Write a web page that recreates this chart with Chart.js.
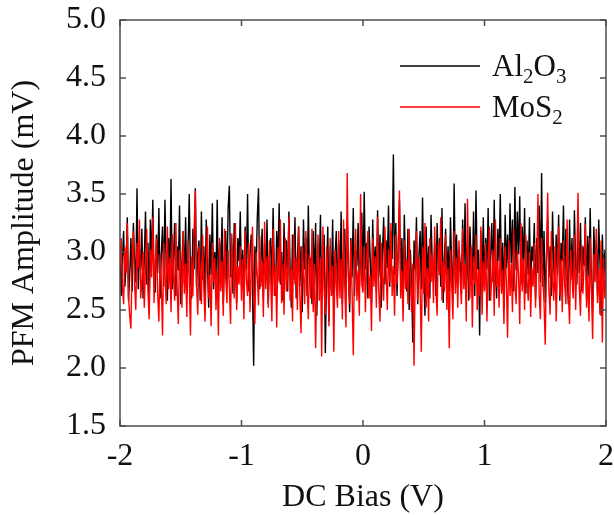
<!DOCTYPE html>
<html>
<head>
<meta charset="utf-8">
<script src="https://cdn.jsdelivr.net/npm/chart.js@4.4.1/dist/chart.umd.min.js"></script>
<style>
  html, body { margin: 0; padding: 0; background: #fff; }
  #wrap { width: 614px; height: 515px; }
</style>
</head>
<body>
<div id="wrap"><canvas id="pfmChart" width="614" height="515"></canvas></div>
<script>
// DC bias sweep (V)
const biasV = [
  -2, -1.99, -1.98, -1.97, -1.96, -1.95, -1.94, -1.93, -1.92, -1.91,
  -1.9, -1.89, -1.88, -1.87, -1.86, -1.85, -1.84, -1.83, -1.82, -1.81,
  -1.8, -1.79, -1.78, -1.77, -1.76, -1.75, -1.74, -1.73, -1.72, -1.71,
  -1.7, -1.69, -1.68, -1.67, -1.66, -1.65, -1.64, -1.63, -1.62, -1.61,
  -1.6, -1.59, -1.58, -1.57, -1.56, -1.55, -1.54, -1.53, -1.52, -1.51,
  -1.5, -1.49, -1.48, -1.47, -1.46, -1.45, -1.44, -1.43, -1.42, -1.41,
  -1.4, -1.39, -1.38, -1.37, -1.36, -1.35, -1.34, -1.33, -1.32, -1.31,
  -1.3, -1.29, -1.28, -1.27, -1.26, -1.25, -1.24, -1.23, -1.22, -1.21,
  -1.2, -1.19, -1.18, -1.17, -1.16, -1.15, -1.14, -1.13, -1.12, -1.11,
  -1.1, -1.09, -1.08, -1.07, -1.06, -1.05, -1.04, -1.03, -1.02, -1.01,
  -1, -0.99, -0.98, -0.97, -0.96, -0.95, -0.94, -0.93, -0.92, -0.91,
  -0.9, -0.89, -0.88, -0.87, -0.86, -0.85, -0.84, -0.83, -0.82, -0.81,
  -0.8, -0.79, -0.78, -0.77, -0.76, -0.75, -0.74, -0.73, -0.72, -0.71,
  -0.7, -0.69, -0.68, -0.67, -0.66, -0.65, -0.64, -0.63, -0.62, -0.61,
  -0.6, -0.59, -0.58, -0.57, -0.56, -0.55, -0.54, -0.53, -0.52, -0.51,
  -0.5, -0.49, -0.48, -0.47, -0.46, -0.45, -0.44, -0.43, -0.42, -0.41,
  -0.4, -0.39, -0.38, -0.37, -0.36, -0.35, -0.34, -0.33, -0.32, -0.31,
  -0.3, -0.29, -0.28, -0.27, -0.26, -0.25, -0.24, -0.23, -0.22, -0.21,
  -0.2, -0.19, -0.18, -0.17, -0.16, -0.15, -0.14, -0.13, -0.12, -0.11,
  -0.1, -0.09, -0.08, -0.07, -0.06, -0.05, -0.04, -0.03, -0.02, -0.01,
  0, 0.01, 0.02, 0.03, 0.04, 0.05, 0.06, 0.07, 0.08, 0.09,
  0.1, 0.11, 0.12, 0.13, 0.14, 0.15, 0.16, 0.17, 0.18, 0.19,
  0.2, 0.21, 0.22, 0.23, 0.24, 0.25, 0.26, 0.27, 0.28, 0.29,
  0.3, 0.31, 0.32, 0.33, 0.34, 0.35, 0.36, 0.37, 0.38, 0.39,
  0.4, 0.41, 0.42, 0.43, 0.44, 0.45, 0.46, 0.47, 0.48, 0.49,
  0.5, 0.51, 0.52, 0.53, 0.54, 0.55, 0.56, 0.57, 0.58, 0.59,
  0.6, 0.61, 0.62, 0.63, 0.64, 0.65, 0.66, 0.67, 0.68, 0.69,
  0.7, 0.71, 0.72, 0.73, 0.74, 0.75, 0.76, 0.77, 0.78, 0.79,
  0.8, 0.81, 0.82, 0.83, 0.84, 0.85, 0.86, 0.87, 0.88, 0.89,
  0.9, 0.91, 0.92, 0.93, 0.94, 0.95, 0.96, 0.97, 0.98, 0.99,
  1, 1.01, 1.02, 1.03, 1.04, 1.05, 1.06, 1.07, 1.08, 1.09,
  1.1, 1.11, 1.12, 1.13, 1.14, 1.15, 1.16, 1.17, 1.18, 1.19,
  1.2, 1.21, 1.22, 1.23, 1.24, 1.25, 1.26, 1.27, 1.28, 1.29,
  1.3, 1.31, 1.32, 1.33, 1.34, 1.35, 1.36, 1.37, 1.38, 1.39,
  1.4, 1.41, 1.42, 1.43, 1.44, 1.45, 1.46, 1.47, 1.48, 1.49,
  1.5, 1.51, 1.52, 1.53, 1.54, 1.55, 1.56, 1.57, 1.58, 1.59,
  1.6, 1.61, 1.62, 1.63, 1.64, 1.65, 1.66, 1.67, 1.68, 1.69,
  1.7, 1.71, 1.72, 1.73, 1.74, 1.75, 1.76, 1.77, 1.78, 1.79,
  1.8, 1.81, 1.82, 1.83, 1.84, 1.85, 1.86, 1.87, 1.88, 1.89,
  1.9, 1.91, 1.92, 1.93, 1.94, 1.95, 1.96, 1.97, 1.98, 1.99,
  2
];

// PFM amplitude (mV), Al2O3 sample (black)
const al2o3Amp = [
  3.05, 2.62, 2.95, 3.18, 2.70, 2.88, 3.30, 2.58, 2.80, 3.12, 2.66, 3.25, 2.92, 2.74, 3.55, 2.68, 3.02, 2.85, 3.20, 2.60,
  2.95, 3.35, 2.72, 3.08, 2.55, 3.28, 2.90, 3.45, 2.78, 2.65, 3.15, 2.82, 3.38, 2.60, 2.98, 3.22, 2.70, 3.45, 2.88, 2.58,
  3.12, 2.76, 3.63, 2.68, 2.95, 3.25, 2.62, 3.05, 2.84, 3.40, 2.55, 2.92, 3.18, 2.72, 3.30, 2.64, 3.02, 3.50, 2.80, 2.60,
  3.20, 2.85, 3.55, 2.70, 2.98, 3.10, 2.58, 3.35, 2.76, 3.05, 2.62, 3.28, 2.90, 2.52, 3.15, 2.80, 3.42, 2.68, 3.00, 2.74,
  3.45, 2.60, 3.08, 2.82, 3.30, 2.55, 2.95, 3.18, 2.70, 3.38, 3.57, 2.78, 3.05, 2.64, 3.25, 2.88, 2.56, 3.12, 2.92, 3.35,
  2.70, 3.02, 2.62, 3.22, 2.85, 3.50, 2.66, 2.98, 3.15, 2.74, 2.02, 3.05, 2.80, 3.30, 3.55, 2.68, 2.92, 3.20, 2.60, 3.08,
  2.78, 3.28, 2.55, 2.95, 3.12, 2.70, 3.38, 2.84, 2.62, 3.18, 2.90, 3.42, 2.72, 3.00, 2.58, 3.25, 2.82, 3.10, 2.66, 3.35,
  2.88, 2.52, 3.15, 2.76, 3.30, 2.60, 2.95, 3.22, 2.70, 3.05, 2.48, 3.28, 2.85, 3.12, 2.62, 3.40, 2.78, 2.95, 2.55, 3.18,
  2.72, 3.25, 2.45, 3.02, 2.85, 3.32, 2.58, 2.90, 3.15, 2.13, 2.80, 3.22, 2.40, 3.05, 2.68, 3.28, 2.52, 2.95, 3.18, 2.62,
  3.10, 2.75, 3.35, 2.55, 2.98, 3.20, 2.66, 3.30, 2.85, 2.48, 3.12, 2.78, 3.38, 2.62, 3.02, 2.88, 3.25, 2.70, 2.96, 3.34,
  2.74, 3.52, 2.85, 3.08, 2.60, 3.22, 2.92, 2.56, 3.28, 2.80, 3.05, 2.66, 3.36, 2.78, 3.15, 2.52, 2.98, 3.30, 2.72, 3.10,
  2.86, 3.40, 2.70, 3.18, 2.94, 3.84, 2.80, 3.25, 2.62, 3.05, 3.45, 2.76, 3.12, 2.58, 3.32, 2.88, 2.66, 3.20, 2.50, 3.02,
  2.72, 2.22, 3.10, 2.85, 3.30, 2.55, 2.96, 3.18, 2.68, 3.47, 2.80, 2.45, 3.22, 2.74, 3.05, 2.60, 3.32, 2.90, 2.75, 3.08,
  2.62, 3.25, 2.84, 3.12, 2.70, 3.38, 2.56, 2.95, 3.20, 2.78, 3.05, 2.66, 3.30, 2.88, 2.58, 3.59, 2.82, 3.15, 2.72, 3.02,
  2.90, 2.64, 3.28, 2.80, 3.42, 2.70, 3.08, 2.58, 3.22, 2.94, 2.76, 3.35, 2.62, 3.53, 2.85, 3.02, 2.28, 3.18, 2.72, 3.30,
  2.68, 3.12, 2.85, 3.38, 2.58, 2.96, 3.25, 2.74, 3.45, 2.82, 2.60, 3.20, 2.92, 3.50, 2.70, 3.08, 2.52, 3.32, 2.86, 3.15,
  2.76, 3.42, 2.90, 3.28, 2.66, 3.56, 2.84, 3.35, 2.98, 3.48, 2.72, 3.22, 2.88, 3.38, 2.64, 3.10, 2.80, 3.30, 2.70, 3.05,
  2.92, 3.25, 2.60, 3.12, 2.82, 3.40, 2.74, 3.68, 2.70, 3.18, 2.56, 2.95, 3.30, 2.78, 3.05, 2.62, 3.35, 2.88, 2.66, 3.15,
  2.80, 3.32, 2.58, 3.08, 2.92, 3.40, 2.70, 3.20, 2.85, 2.55, 3.28, 2.76, 3.12, 2.64, 3.36, 2.90, 2.72, 3.18, 2.82, 3.25,
  2.66, 3.05, 2.88, 3.30, 2.60, 3.14, 2.78, 3.38, 2.70, 2.50, 3.22, 2.84, 3.10, 2.62, 3.28, 2.92, 2.45, 3.15, 2.75, 3.02,
  2.70
];

// PFM amplitude (mV), MoS2 sample (red)
const mos2Amp = [
  2.90, 3.12, 2.70, 2.55, 3.05, 2.82, 3.25, 2.62, 2.45, 2.34, 2.95, 3.18, 2.72, 2.50, 3.08, 2.86, 3.28, 2.60, 2.76, 3.00,
  2.52, 2.88, 3.20, 2.66, 2.42, 3.02, 2.78, 3.30, 2.56, 2.92, 3.12, 2.64, 2.40, 2.98, 2.74, 2.28, 3.08, 2.82, 2.55, 3.22,
  2.68, 2.95, 2.48, 3.15, 2.80, 2.58, 3.25, 2.70, 2.38, 3.02, 2.86, 2.52, 3.18, 2.64, 2.90, 2.44, 3.10, 2.76, 2.28, 2.96,
  2.62, 3.20, 3.53, 2.72, 2.46, 3.05, 2.84, 2.55, 3.15, 2.68, 2.40, 2.92, 3.22, 2.60, 2.80, 2.36, 3.08, 2.74, 2.95, 2.50,
  2.85, 2.28, 3.12, 2.66, 2.92, 2.45, 3.20, 2.78, 2.56, 3.02, 2.70, 2.38, 3.16, 2.84, 2.60, 3.25, 2.50, 2.88, 2.72, 3.05,
  2.58, 2.94, 2.42, 3.18, 2.76, 2.62, 3.08, 2.48, 2.86, 3.22, 2.66, 2.38, 3.00, 2.80, 2.54, 3.14, 2.70, 2.92, 2.44, 3.26,
  2.68, 2.96, 2.52, 3.10, 2.78, 2.40, 3.20, 2.62, 2.88, 2.35, 3.04, 2.74, 3.28, 2.56, 2.90, 2.46, 3.12, 2.66, 2.82, 3.30,
  2.58, 2.86, 2.40, 3.15, 2.72, 2.95, 2.50, 3.22, 2.64, 2.30, 3.05, 2.80, 2.55, 3.18, 2.70, 2.42, 2.98, 2.60, 3.20, 2.48,
  2.90, 2.17, 2.75, 3.15, 2.58, 2.95, 2.10, 3.22, 2.68, 2.46, 3.05, 2.80, 2.36, 3.12, 2.62, 2.88, 2.14, 3.02, 2.72, 2.52,
  3.18, 2.60, 2.94, 2.42, 3.28, 2.70, 2.35, 3.68, 2.78, 2.55, 3.10, 2.66, 2.11, 2.92, 3.20, 2.58, 2.84, 2.45, 3.50, 2.72,
  2.65, 3.05, 2.48, 2.92, 3.18, 2.60, 2.80, 2.32, 3.12, 2.70, 2.96, 2.52, 3.30, 2.66, 2.40, 3.08, 2.78, 2.58, 3.22, 2.85,
  2.50, 3.02, 2.74, 3.25, 2.62, 2.88, 2.45, 3.15, 2.72, 2.98, 3.53, 2.60, 2.84, 2.40, 3.10, 2.68, 2.94, 2.55, 3.20, 2.76,
  2.48, 2.90, 2.02, 2.82, 3.18, 2.58, 2.95, 2.70, 2.14, 3.05, 2.64, 3.25, 2.52, 2.86, 2.40, 3.12, 2.74, 2.98, 2.56, 3.22,
  2.70, 2.45, 3.08, 2.80, 3.30, 2.58, 2.92, 2.66, 3.15, 2.50, 2.86, 2.17, 3.02, 2.72, 2.42, 3.18, 2.64, 2.95, 2.52, 3.10,
  2.76, 2.55, 3.20, 2.68, 2.90, 2.40, 3.46, 2.82, 2.60, 3.05, 2.35, 2.96, 2.72, 3.15, 2.50, 2.85, 2.62, 3.22, 2.46, 2.92,
  2.66, 3.08, 2.40, 2.88, 3.22, 2.58, 2.78, 3.02, 2.45, 3.28, 2.70, 2.92, 2.52, 3.12, 2.64, 2.85, 2.38, 3.05, 2.74, 2.26,
  3.10, 2.62, 2.90, 2.48, 3.20, 2.72, 2.55, 3.02, 2.80, 2.38, 3.25, 2.66, 2.94, 2.50, 3.15, 2.76, 2.58, 3.00, 2.44, 2.86,
  2.70, 3.08, 2.52, 2.88, 3.50, 2.64, 2.42, 3.12, 2.78, 2.56, 2.20, 2.95, 3.51, 2.68, 2.46, 3.18, 2.74, 2.58, 3.05, 2.40,
  2.88, 3.22, 2.62, 2.94, 2.48, 3.10, 2.72, 2.55, 3.28, 2.66, 2.38, 3.02, 2.80, 2.60, 3.15, 2.50, 2.92, 3.51, 2.70, 2.45,
  3.06, 2.64, 2.90, 3.24, 2.52, 2.80, 2.40, 3.12, 2.68, 2.25, 2.98, 2.74, 3.20, 2.56, 2.86, 2.46, 3.10, 2.22, 2.95, 2.60,
  2.84
];

const xTicks = [-2, -1, 0, 1, 2];
const yTicks = [1.5, 2.0, 2.5, 3.0, 3.5, 4.0, 4.5, 5.0];

const SERIF = '"Liberation Serif", "Times New Roman", serif';
const FRAME = "#4d4d4d";

// box frame with inward ticks on all four sides
const framePlugin = {
  id: "frame",
  afterDraw(chart) {
    const { ctx, chartArea: a, scales } = chart;
    ctx.save();
    ctx.strokeStyle = FRAME;
    ctx.lineWidth = 1.5;
    ctx.strokeRect(a.left, a.top, a.right - a.left, a.bottom - a.top);
    ctx.beginPath();
    xTicks.forEach((v) => {
      const px = scales.x.getPixelForValue(v);
      ctx.moveTo(px, a.bottom); ctx.lineTo(px, a.bottom - 6);
      ctx.moveTo(px, a.top); ctx.lineTo(px, a.top + 6);
    });
    yTicks.forEach((v) => {
      const py = scales.y.getPixelForValue(v);
      ctx.moveTo(a.left, py); ctx.lineTo(a.left + 6, py);
      ctx.moveTo(a.right, py); ctx.lineTo(a.right - 6, py);
    });
    ctx.stroke();
    ctx.restore();
  },
};

// legend with real subscripts
const legendPlugin = {
  id: "subLegend",
  afterDraw(chart) {
    const { ctx } = chart;
    const items = [
      { color: "#000000", parts: [["Al", 0], ["2", 1], ["O", 0], ["3", 1]], y: 66 },
      { color: "#ff0000", parts: [["MoS", 0], ["2", 1]], y: 107 },
    ];
    ctx.save();
    items.forEach((it) => {
      ctx.strokeStyle = it.color;
      ctx.lineWidth = 1.3;
      ctx.beginPath();
      ctx.moveTo(400, it.y);
      ctx.lineTo(480, it.y);
      ctx.stroke();
      let x = 492;
      const base = it.y + 10;
      ctx.fillStyle = "#111";
      ctx.textBaseline = "alphabetic";
      it.parts.forEach(([txt, sub]) => {
        ctx.font = sub ? `21px ${SERIF}` : `31px ${SERIF}`;
        ctx.fillText(txt, x, sub ? base + 7 : base);
        x += ctx.measureText(txt).width;
      });
    });
    ctx.restore();
  },
};

new Chart(document.getElementById("pfmChart"), {
  type: "line",
  data: {
    datasets: [
      {
        label: "Al2O3",
        data: biasV.map((x, i) => ({ x, y: al2o3Amp[i] })),
        borderColor: "#000000",
        borderWidth: 1.4,
        pointRadius: 0,
        order: 2,
      },
      {
        label: "MoS2",
        data: biasV.map((x, i) => ({ x, y: mos2Amp[i] })),
        borderColor: "#ff0000",
        borderWidth: 1.4,
        pointRadius: 0,
        order: 1,
      },
    ],
  },
  options: {
    responsive: false,
    animation: false,
    layout: { padding: { top: 20, right: 8, left: 0, bottom: 0 } },
    plugins: { legend: { display: false }, tooltip: { enabled: false } },
    scales: {
      x: {
        type: "linear",
        min: -2,
        max: 2,
        afterBuildTicks: (s) => { s.ticks = xTicks.map((v) => ({ value: v })); },
        afterFit: (s) => { s.height = 89; s.paddingLeft = 0; s.paddingRight = 0; },
        grid: { display: false, drawTicks: false },
        border: { display: false },
        ticks: { font: { family: SERIF, size: 32 }, color: "#111", padding: 11, maxRotation: 0 },
        title: { display: true, text: "DC Bias (V)", font: { family: SERIF, size: 32, lineHeight: 1.1 }, color: "#111", padding: 0 },
      },
      y: {
        min: 1.5,
        max: 5,
        afterBuildTicks: (s) => { s.ticks = yTicks.map((v) => ({ value: v })); },
        afterFit: (s) => { s.width = 120; s.paddingTop = 0; s.paddingBottom = 0; },
        grid: { display: false, drawTicks: false },
        border: { display: false },
        ticks: { font: { family: SERIF, size: 32 }, color: "#111", padding: 14, callback: (v) => v.toFixed(1) },
        title: { display: true, text: "PFM Amplitude (mV)", font: { family: SERIF, size: 32, lineHeight: 1.2 }, color: "#111", padding: { top: 5, bottom: 0 } },
      },
    },
  },
  plugins: [framePlugin, legendPlugin],
});
</script>
</body>
</html>
